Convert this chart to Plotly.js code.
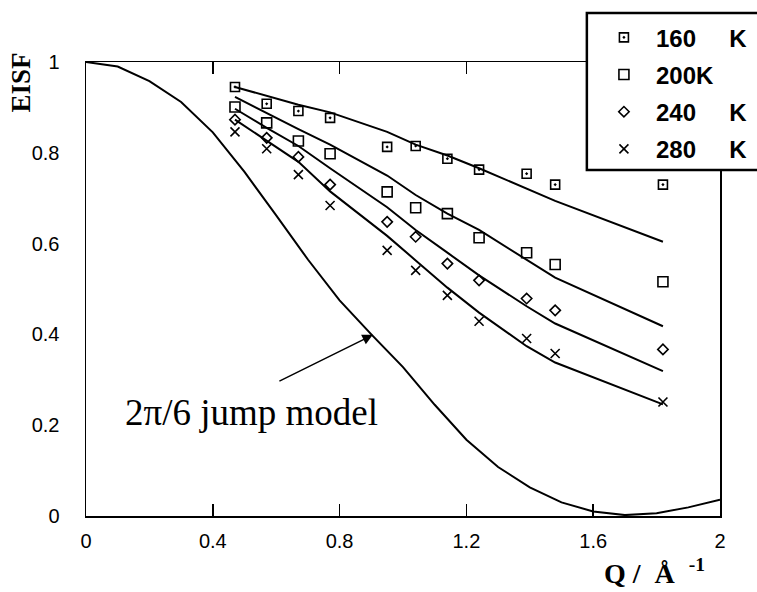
<!DOCTYPE html>
<html>
<head>
<meta charset="utf-8">
<script src="https://cdn.plot.ly/plotly-3.0.1.min.js"></script>
<style>html,body{margin:0;padding:0;background:#fff;}#chart{width:757px;height:592px;}</style>
</head>
<body>
<div id="chart"></div>
<script>
// Momentum transfer Q (Å^-1) of the measured points
const Q = [0.47, 0.57, 0.67, 0.77, 0.95, 1.04, 1.14, 1.24, 1.39, 1.48, 1.82];

// Measured EISF
const eisf160 = [0.945, 0.908, 0.892, 0.877, 0.813, 0.815, 0.787, 0.763, 0.754, 0.730, 0.730];
const eisf200 = [0.901, 0.866, 0.826, 0.798, 0.714, 0.679, 0.666, 0.613, 0.580, 0.554, 0.516];
const eisf240 = [0.873, 0.833, 0.791, 0.730, 0.648, 0.615, 0.556, 0.519, 0.479, 0.453, 0.367];
const eisf280 = [0.846, 0.809, 0.752, 0.684, 0.585, 0.541, 0.486, 0.429, 0.391, 0.358, 0.251];

// Model fits at the same Q
const fit160 = [0.945, 0.926, 0.906, 0.889, 0.846, 0.818, 0.794, 0.766, 0.722, 0.694, 0.604];
const fit200 = [0.923, 0.887, 0.852, 0.818, 0.750, 0.707, 0.666, 0.630, 0.565, 0.525, 0.418];
const fit240 = [0.897, 0.855, 0.815, 0.766, 0.680, 0.630, 0.580, 0.530, 0.462, 0.424, 0.319];
const fit280 = [0.873, 0.826, 0.780, 0.715, 0.617, 0.563, 0.503, 0.448, 0.374, 0.338, 0.246];

// 2pi/6 jump model curve
const jumpQ    = [0, 0.1, 0.2, 0.3, 0.4, 0.5, 0.6, 0.7, 0.8, 0.9, 1.0, 1.1, 1.2, 1.3, 1.4, 1.5, 1.6, 1.7, 1.8, 1.9, 2.0];
const jumpEISF = [1.0, 0.99, 0.958, 0.912, 0.845, 0.758, 0.662, 0.565, 0.475, 0.400, 0.328, 0.245, 0.168, 0.108, 0.063, 0.030, 0.010, 0.002, 0.006, 0.019, 0.036];

// Series names and tick labels
const seriesNames = ['160\u00a0\u00a0\u00a0\u00a0\u00a0K', '200K', '240\u00a0\u00a0\u00a0\u00a0\u00a0K', '280\u00a0\u00a0\u00a0\u00a0\u00a0K'];
const xTickVals = [0, 0.4, 0.8, 1.2, 1.6, 2];
const xTickText = ['0', '0.4', '0.8', '1.2', '1.6', '2'];
const yTickVals = [0, 0.2, 0.4, 0.6, 0.8, 1];
const yTickText = ['0', '0.2', '0.4', '0.6', '0.8', '1'];

const measured = [eisf160, eisf200, eisf240, eisf280];
const fits = [fit160, fit200, fit240, fit280];
const symbols = ['square-open-dot', 'square-open', 'diamond-open', 'x-thin-open'];
const sizes = [9, 10, 8, 9];

const traces = [];
traces.push({
  x: jumpQ, y: jumpEISF, mode: 'lines', showlegend: false,
  line: {color: '#000', width: 2}, hoverinfo: 'skip'
});
fits.forEach((f) => {
  traces.push({x: Q, y: f, mode: 'lines', showlegend: false,
    line: {color: '#000', width: 2}, hoverinfo: 'skip'});
});
measured.forEach((m, i) => {
  traces.push({x: Q, y: m, mode: 'markers', name: seriesNames[i],
    legendgroup: 'g' + i,
    marker: {symbol: symbols[i], size: sizes[i], color: '#000', line: {color: '#000', width: 1.6}}});
});

const serif = '"Liberation Serif", "Times New Roman", serif';
const sans = '"Liberation Sans", Arial, sans-serif';

const layout = {
  width: 757, height: 592,
  margin: {l: 86, r: 37, t: 62, b: 76, autoexpand: false},
  paper_bgcolor: '#fff', plot_bgcolor: '#fff',
  font: {family: sans, color: '#000', size: 20},
  xaxis: {
    range: [0, 2], tickvals: xTickVals, ticktext: xTickText,
    ticks: 'inside', ticklen: 12, tickwidth: 1.5, tickcolor: '#000',
    showline: true, linecolor: '#000', linewidth: 1.5, mirror: 'ticks',
    showgrid: false, zeroline: false, ticklabelstandoff: 6,
    tickfont: {size: 20}
  },
  yaxis: {
    range: [0, 1], tickvals: yTickVals, ticktext: yTickText,
    ticks: '', showline: true, linecolor: '#000', linewidth: 1.5, mirror: true,
    showgrid: false, zeroline: false, ticklabelstandoff: 21,
    tickfont: {size: 20}
  },
  showlegend: true,
  legend: {
    x: 0.798, y: 1.103, xanchor: 'left', yanchor: 'top',
    bgcolor: 'rgba(0,0,0,0)', borderwidth: 0,
    traceorder: 'grouped', tracegroupgap: 3,
    font: {family: sans, size: 24, weight: 'bold', color: '#000'},
    itemwidth: 54
  },
  shapes: [{
    type: 'rect', xref: 'paper', yref: 'paper',
    x0: 0.790, x1: 1.2, y0: 0.762, y1: 1.108,
    line: {color: '#000', width: 2.5}, fillcolor: '#fff', layer: 'above'
  }],
  annotations: [
    {xref: 'paper', yref: 'paper', x: -0.1025, y: 0.955, xanchor: 'center', yanchor: 'middle',
     textangle: -90, showarrow: false,
     text: 'EISF', font: {family: serif, size: 27, weight: 'bold'}},
    {xref: 'paper', yref: 'paper', x: 0.896, y: -0.122, xanchor: 'center', yanchor: 'middle',
     showarrow: false,
     text: 'Q\u00a0/\u00a0\u00a0Å\u00a0\u00a0<sup>-1</sup>', font: {family: serif, size: 28, weight: 'bold'}},
    {xref: 'x', yref: 'y', x: 0.522, y: 0.229, xanchor: 'center', yanchor: 'middle', showarrow: false,
     text: '2π/6 jump model', font: {family: serif, size: 37}},
    {xref: 'x', yref: 'y', x: 0.905, y: 0.399, ax: -95, ay: 47, showarrow: true, text: '',
     arrowhead: 2, arrowsize: 1.4, arrowwidth: 1.5, arrowcolor: '#000', standoff: 0}
  ]
};

Plotly.newPlot('chart', traces, layout, {displayModeBar: false, staticPlot: true});
</script>
</body>
</html>
